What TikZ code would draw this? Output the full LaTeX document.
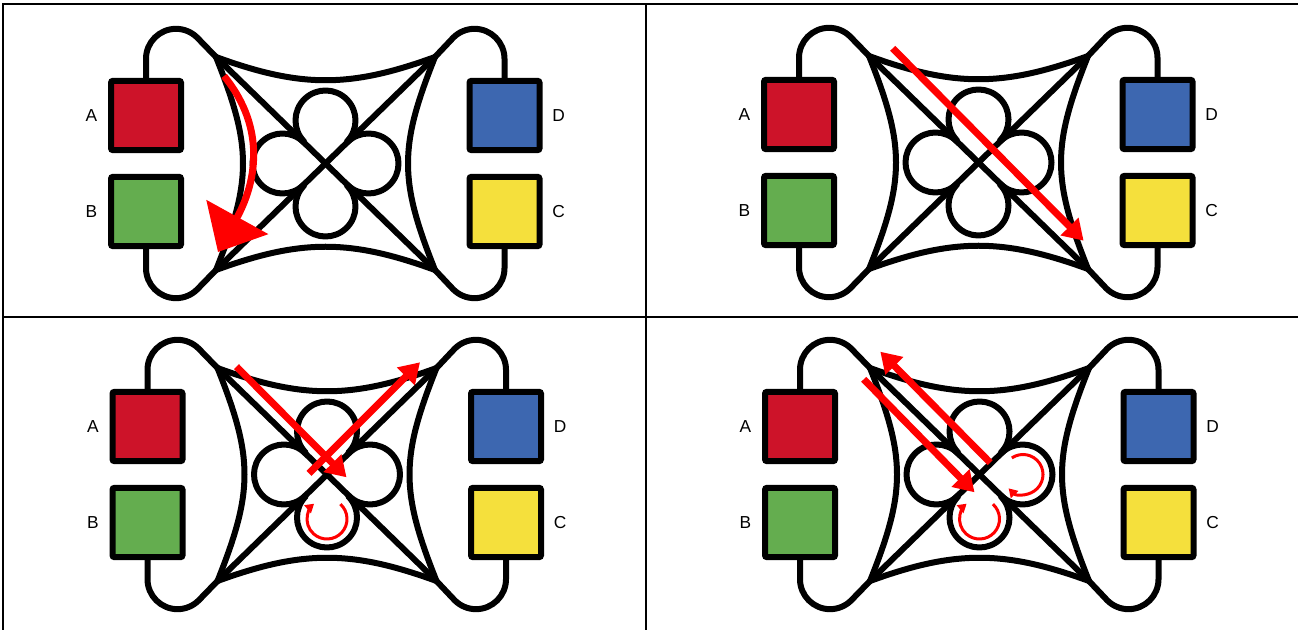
\documentclass[tikz,border=0pt]{standalone}
\usepackage{fontspec}
\setmainfont{Liberation Sans}
\usetikzlibrary{arrows.meta}
\definecolor{cA}{HTML}{CD1329}
\definecolor{cB}{HTML}{64AD4F}
\definecolor{cC}{HTML}{F5E03C}
\definecolor{cD}{HTML}{3D67B0}
\definecolor{rarrow}{HTML}{FF0000}
\tikzset{
  box/.style={draw=black, line width=4.5pt, rounded corners=1.5pt, minimum width=52.5pt, minimum height=52pt, inner sep=0pt, outer sep=0pt},
  lbl/.style={font=\fontsize{13pt}{15pt}\selectfont, inner sep=0pt},
  wire/.style={draw=black, line width=4.5pt, line join=round, line cap=round},
  bigarrow/.style={draw=rarrow, line width=5.25pt, -{Triangle[length=15pt,width=18pt]}},
  hugearrow/.style={draw=rarrow, line width=5.25pt, -{Triangle[length=30pt,width=52pt]}},
  spin/.style={draw=rarrow, line width=2.25pt, -{Triangle[length=6.5pt,width=7.5pt]}},
  gridthin/.style={draw=black, line width=1pt},
  gridthick/.style={draw=black, line width=1.5pt},
}
\newcommand{\basepanel}[3]{%
\begin{scope}[shift={(#2,#3)}]
\node[box, fill=cA] (A#1) at (146,115.5) {};
\node[box, fill=cB] (B#1) at (146,211.5) {};
\node[box, fill=cD] (D#1) at (504.5,115.5) {};
\node[box, fill=cC] (C#1) at (504.5,211.5) {};
\node[lbl] (la#1) at (91.5,116) {A};
\node[lbl] (lb#1) at (91.5,212) {B};
\node[lbl] (ld#1) at (558.5,116) {D};
\node[lbl] (lc#1) at (558.5,212) {C};
\coordinate (tl#1) at (216,57);
\coordinate (tr#1) at (435,57);
\coordinate (bl#1) at (216,270);
\coordinate (br#1) at (435,270);
\coordinate (o#1) at (325.5,163.5);
\draw[wire] (A#1.north) -- ++(0,-22) arc[start angle=180, end angle=315, radius=30] -- (tl#1);
\draw[wire] (D#1.north) -- ++(0,-22) arc[start angle=0, end angle=-135, radius=30] -- (tr#1);
\draw[wire] (B#1.south) -- ++(0,22) arc[start angle=180, end angle=45, radius=30] -- (bl#1);
\draw[wire] (C#1.south) -- ++(0,22) arc[start angle=0, end angle=135, radius=30] -- (br#1);
\draw[wire] (tl#1) .. controls (301,88) and (350,88) .. (tr#1);
\draw[wire] (bl#1) .. controls (301,239) and (350,239) .. (br#1);
\draw[wire] (tl#1) .. controls (252,147) and (252,180) .. (bl#1);
\draw[wire] (tr#1) .. controls (399,147) and (399,180) .. (br#1);
\draw[wire] (tl#1) -- (br#1);
\draw[wire] (tr#1) -- (bl#1);
\foreach \ph [evaluate=\ph as \sa using \ph-134.3, evaluate=\ph as \ea using \ph+134.3] in {-90,0,90,180}
  \draw[wire] (o#1) ++(\ph:43) ++(\sa:30) arc[start angle=\sa, end angle=\ea, radius=30];
\end{scope}}
\begin{document}
\begin{tikzpicture}[x=0.75pt, y=-0.75pt]
\useasboundingbox (0,0) rectangle (1298,630);
\fill[white] (0,0) rectangle (1298,630);
% table rules
\draw[gridthin] (3,4) -- (1298,4);
\draw[gridthin] (3,317) -- (1298,317);
\foreach \a/\b in {3/78, 572/730, 1223/1298} {
  \draw[gridthick] (\a,4) -- (\b,4);
  \draw[gridthick] (\a,317) -- (\b,317);
}
\draw[gridthick] (3,3.3) -- (3,630);
\draw[gridthick] (646,3.3) -- (646,630);
% panels
\basepanel{1}{0}{0}
\basepanel{2}{653}{-1}
\basepanel{3}{1.5}{311}
\basepanel{4}{654}{311}
% panel 1
\begin{scope}[shift={(0,0)}]
\coordinate (s1) at (224,76);
\coordinate (e1) at (218,252);
\draw[hugearrow] (s1) .. controls (268,130) and (255,185) .. (e1);
\end{scope}
% panel 2
\begin{scope}[shift={(653,-1)}]
\coordinate (s2) at (239.7,49.3);
\coordinate (e2) at (430.6,241.7);
\draw[bigarrow] (s2) -- (e2);
\end{scope}
% panel 3
\begin{scope}[shift={(1.5,311)}]
\coordinate (s3a) at (235,55.7);
\coordinate (e3a) at (345,166.3);
\coordinate (s3b) at (307.5,162.3);
\coordinate (e3b) at (418.5,51.3);
\coordinate (c3) at (325.5,208);
\draw[bigarrow] (s3a) -- (e3a);
\draw[bigarrow] (s3b) -- (e3b);
\draw[spin] (c3) ++(-48:20) arc[start angle=-48, end angle=230, radius=20];
\end{scope}
% panel 4
\begin{scope}[shift={(654,311)}]
\coordinate (s4a) at (336.2,151.7);
\coordinate (e4a) at (226.3,40.7);
\coordinate (s4b) at (209.7,68.3);
\coordinate (e4b) at (320.5,181.3);
\coordinate (c4) at (325.5,208);
\coordinate (c4r) at (369,163.5);
\draw[bigarrow] (s4a) -- (e4a);
\draw[bigarrow] (s4b) -- (e4b);
\draw[spin] (c4) ++(-48:20) arc[start angle=-48, end angle=230, radius=20];
\draw[spin] (c4r) ++(-124:20) arc[start angle=-124, end angle=136, radius=20];
\end{scope}
\end{tikzpicture}
\end{document}
